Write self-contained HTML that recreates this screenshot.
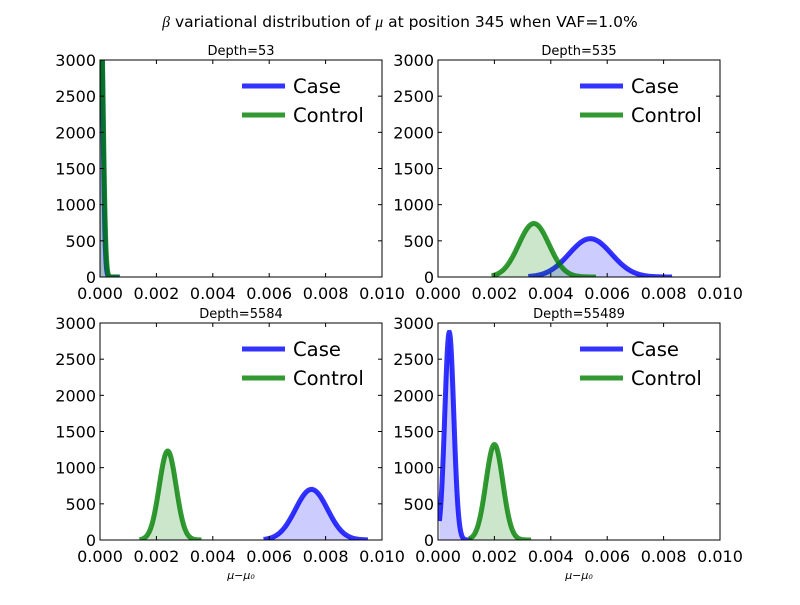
<!DOCTYPE html>
<html><head><meta charset="utf-8"><style>
body{margin:0;background:#fff}
svg text{font-family:"DejaVu Sans","Liberation Sans",sans-serif}
</style></head><body>
<svg id="c" width="800" height="600" xmlns="http://www.w3.org/2000/svg">
<rect width="800" height="600" fill="#fff"/>
<text x="400" y="27" text-anchor="middle" font-size="15.5"><tspan font-style="italic" font-family="Liberation Serif,serif">β</tspan> variational distribution of <tspan font-style="italic" font-family="Liberation Serif,serif">μ</tspan> at position 345 when VAF=1.0%</text>
</svg>
<script>
const panelTitles=["Depth=53","Depth=535","Depth=5584","Depth=55489"];
const caseMean=[0.00002,0.0054,0.0075,0.0004];
const caseSd=[0.00008,0.00075,0.00057,0.00016];
const casePeak=[4000,530,700,2870];
const caseMin=[0,0.0032,0.0058,0.00005];
const caseMax=[0.0007,0.0083,0.0095,0.0012];
const ctrlMean=[0.00002,0.0034,0.0024,0.002];
const ctrlSd=[0.00009,0.00054,0.0003,0.0003];
const ctrlPeak=[4000,740,1230,1320];
const ctrlMin=[0,0.0019,0.0014,0.0011];
const ctrlMax=[0.0007,0.0056,0.0036,0.0033];
const yTicks=[0,500,1000,1500,2000,2500,3000];
const xTicks=[0,0.002,0.004,0.006,0.008,0.010];
const xTickLabels=["0.000","0.002","0.004","0.006","0.008","0.010"];
const NS="http://www.w3.org/2000/svg";
const svg=document.getElementById('c');
const L=[100,438],T=[60,323],W=282,H=217;
function mk(tag,attrs,parent){const e=document.createElementNS(NS,tag);for(const k in attrs)e.setAttribute(k,attrs[k]);(parent||svg).appendChild(e);return e;}
for(let p=0;p<4;p++){
  const x0=L[p%2],y0=T[Math.floor(p/2)];
  const sx=v=>x0+v/0.01*W, sy=v=>y0+H-Math.min(v,3100)/3000*H;
  const g=mk('g',{});
  
  
  const clipId='clip'+p;
  const cp=mk('clipPath',{id:clipId},g);mk('rect',{x:x0,y:y0,width:W,height:H},cp);
  const series=[[caseMean,caseSd,casePeak,caseMin,caseMax,'0,0,255','case'],[ctrlMean,ctrlSd,ctrlPeak,ctrlMin,ctrlMax,'0,128,0','control']];
  for(const s of series){
    const m=s[0][p],sd=s[1][p],pk=s[2][p],a=s[3][p],b=s[4][p];
    let pts=[];
    for(let i=0;i<=120;i++){const x=a+(b-a)*i/120;const y=pk*Math.exp(-0.5*((x-m)/sd)**2);pts.push([sx(x),sy(y)]);}
    const d=pts.map((q,i)=>(i?'L':'M')+q[0].toFixed(2)+','+q[1].toFixed(2)).join('');
    const f=mk('path',{d:d+'L'+sx(b)+','+sy(0)+'L'+sx(a)+','+sy(0)+'Z',fill:'rgba('+s[5]+',0.2)','clip-path':'url(#'+clipId+')'},g);
    
    
    const l=mk('path',{d:d,fill:'none',stroke:'rgba('+s[5]+',0.8)','stroke-width':5,'clip-path':'url(#'+clipId+')'},g);
    
    
  }
  mk('rect',{x:x0,y:y0,width:W,height:H,fill:'none',stroke:'#000','stroke-width':1},g);
  yTicks.forEach(v=>{const y=sy(v);mk('line',{x1:x0,x2:x0+4,y1:y,y2:y,stroke:'#000'},g);mk('line',{x1:x0+W-4,x2:x0+W,y1:y,y2:y,stroke:'#000'},g);
    const t=mk('text',{x:x0-4,y:y+6,'text-anchor':'end','font-size':16},g);t.textContent=v;
    
    });
  xTicks.forEach((v,i)=>{const x=sx(v);mk('line',{x1:x,x2:x,y1:y0+H,y2:y0+H-4,stroke:'#000'},g);mk('line',{x1:x,x2:x,y1:y0,y2:y0+4,stroke:'#000'},g);
    const t=mk('text',{x:x,y:y0+H+22,'text-anchor':'middle','font-size':16},g);t.textContent=xTickLabels[i];
    
    });
  const tt=mk('text',{x:x0+W/2,y:y0-5,'text-anchor':'middle','font-size':13},g);tt.textContent=panelTitles[p];
  
  
  const lg=mk('g',{},g);
  
  
  [['Case','0,0,255',26],['Control','0,128,0',55]].forEach(e=>{
    mk('line',{x1:x0+142,x2:x0+185,y1:y0+e[2],y2:y0+e[2],stroke:'rgba('+e[1]+',0.8)','stroke-width':5},lg);
    const t=mk('text',{x:x0+193,y:y0+e[2]+7,'font-size':19.6},lg);t.textContent=e[0];
    
    
  });
  if(p>=2){const xl=mk('text',{x:x0+W/2,y:579,'text-anchor':'middle','font-size':11,'font-style':'italic','font-family':'Liberation Serif,serif'},g);
    xl.textContent='μ−μ₀';
    
    }
}
</script>
</body></html>
